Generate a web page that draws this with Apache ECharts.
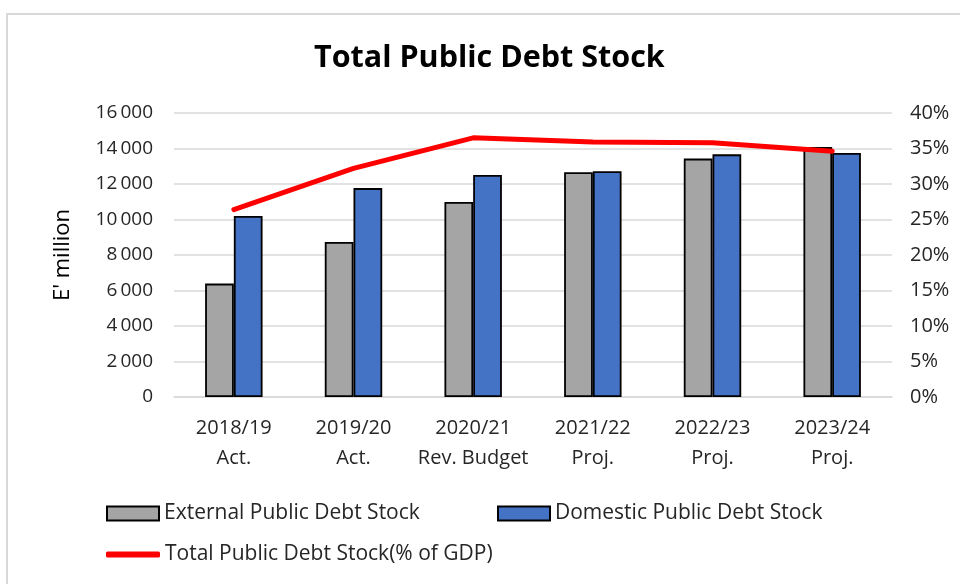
<!DOCTYPE html>
<html>
<head>
<meta charset="utf-8">
<script src="https://cdn.jsdelivr.net/npm/echarts@6/dist/echarts.min.js"></script>
<style>
  html, body { margin: 0; padding: 0; background: #fff; }
  #chart { width: 960px; height: 584px; }
</style>
</head>
<body>
<div id="chart"></div>
<script>
// Fiscal years with their status line
const categories = ['2018/19\nAct.', '2019/20\nAct.', '2020/21\nRev. Budget', '2021/22\nProj.', '2022/23\nProj.', '2023/24\nProj.'];
// Debt stock, E' million
const externalDebt = [6390, 8730, 10990, 12660, 13430, 14080];
const domesticDebt = [10200, 11770, 12510, 12720, 13670, 13750];
// Total public debt as % of GDP
const totalDebtPctGdp = [26.4, 32.2, 36.5, 35.9, 35.8, 34.6];
// Axis ticks
const leftTicks = { min: 0, max: 16000, step: 2000 };
const rightTicks = { min: 0, max: 40, step: 5 };

const FONT = 'Open Sans';
const TXT = '#262626';

const chart = echarts.init(document.getElementById('chart'), null, { renderer: 'canvas' });

// thousands grouped with a thin space: 16 000
function thousands(v) {
  return String(v).replace(/\B(?=(\d{3})+(?!\d))/g, '\u2009');
}

const legendText = { fontFamily: FONT, fontSize: 21, color: TXT };

chart.setOption({
  backgroundColor: '#fff',
  animation: false,
  title: {
    text: 'Total Public Debt Stock',
    left: 314,
    top: 43,
    padding: 0,
    textStyle: { fontFamily: FONT, fontWeight: 'bold', fontSize: 30.5, color: '#000' }
  },
  graphic: [{
    type: 'rect',
    shape: { x: 7, y: 14, width: 1000, height: 700 },
    style: { fill: 'none', stroke: '#D9D9D9', lineWidth: 2 },
    silent: true
  }],
  legend: [
    {
      data: [{ name: 'External Public Debt Stock', icon: 'rect' }],
      left: 106, top: 503, padding: 0,
      itemWidth: 52, itemHeight: 14,
      textStyle: legendText
    },
    {
      data: [{ name: 'Domestic Public Debt Stock', icon: 'rect' }],
      left: 497, top: 503, padding: 0,
      itemWidth: 52, itemHeight: 14,
      textStyle: legendText
    },
    {
      data: [{ name: 'Total Public Debt Stock(% of GDP)', icon: 'roundRect' }],
      left: 106, top: 544, padding: 0,
      itemWidth: 54, itemHeight: 6,
      textStyle: legendText
    }
  ],
  grid: { left: 174, right: 68, top: 113, bottom: 187 },
  xAxis: {
    type: 'category',
    data: categories,
    axisLine: { show: true, lineStyle: { color: '#D9D9D9', width: 1.5 } },
    axisTick: { show: false },
    axisLabel: {
      fontFamily: FONT, fontSize: 20, color: TXT,
      lineHeight: 30, margin: 16, interval: 0
    }
  },
  yAxis: [
    {
      type: 'value',
      min: leftTicks.min, max: leftTicks.max, interval: leftTicks.step,
      name: "E' million",
      nameLocation: 'middle',
      nameRotate: 90,
      nameGap: 100,
      nameTextStyle: { fontFamily: FONT, fontSize: 22, color: '#000' },
      axisLine: { show: false },
      axisTick: { show: false },
      splitLine: { lineStyle: { color: '#D9D9D9', width: 1.5 } },
      axisLabel: {
        fontFamily: FONT, fontSize: 19, color: TXT, margin: 21,
        formatter: v => thousands(v)
      }
    },
    {
      type: 'value',
      min: rightTicks.min, max: rightTicks.max, interval: rightTicks.step,
      axisLine: { show: false },
      axisTick: { show: false },
      splitLine: { show: false },
      axisLabel: {
        fontFamily: FONT, fontSize: 20, color: TXT, margin: 18,
        formatter: v => v + '%'
      }
    }
  ],
  series: [
    {
      name: 'External Public Debt Stock',
      type: 'bar',
      data: externalDebt,
      barGap: '0%',
      barCategoryGap: '52%',
      itemStyle: { color: '#A5A5A5', borderColor: '#000', borderWidth: 1.8 }
    },
    {
      name: 'Domestic Public Debt Stock',
      type: 'bar',
      data: domesticDebt,
      itemStyle: { color: '#4472C4', borderColor: '#000', borderWidth: 1.8 }
    },
    {
      name: 'Total Public Debt Stock(% of GDP)',
      type: 'line',
      yAxisIndex: 1,
      data: totalDebtPctGdp,
      symbol: 'none',
      lineStyle: { color: '#FF0000', width: 5, cap: 'round', join: 'round' },
      itemStyle: { color: '#FF0000' },
      z: 5
    }
  ]
});
</script>
</body>
</html>
